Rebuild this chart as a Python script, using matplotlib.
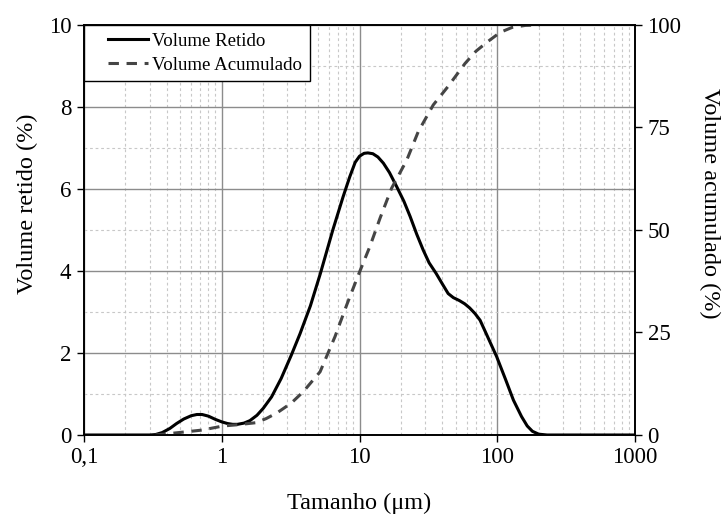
import matplotlib
matplotlib.use("Agg")
import matplotlib.pyplot as plt
from matplotlib.ticker import FixedLocator, LogLocator, NullFormatter
from matplotlib.legend_handler import HandlerLine2D

plt.rcParams['font.family'] = ['Liberation Serif', 'DejaVu Serif']
plt.rcParams['lines.scale_dashes'] = False

# volume retido (%)
tam_retido = [0.1, 0.2, 0.3, 0.33, 0.37, 0.42, 0.47, 0.53, 0.6, 0.66, 0.72, 0.8, 0.9,
              1.0, 1.1, 1.2, 1.3, 1.45, 1.6, 1.8, 2.0, 2.3, 2.7, 3.2, 3.7, 4.4, 5.2,
              6.4, 7.6, 8.5, 9.3, 10, 10.8, 11.5, 12.5, 13.6, 14.9, 16.5, 18.6, 21,
              23.3, 26, 29, 32, 36, 40, 44, 48, 53, 58, 63, 69, 75, 85, 99, 115, 131,
              150, 165, 180, 200, 230, 300, 1000]
vol_retido = [0, 0, 0, 0.01, 0.06, 0.16, 0.28, 0.39, 0.47, 0.5, 0.5, 0.46, 0.38,
              0.32, 0.28, 0.26, 0.26, 0.29, 0.35, 0.48, 0.65, 0.93, 1.38, 1.95, 2.47, 3.15, 3.94,
              5.0, 5.81, 6.3, 6.65, 6.8, 6.87, 6.88, 6.86, 6.78, 6.63, 6.4, 6.06, 5.7,
              5.33, 4.9, 4.51, 4.2, 3.94, 3.68, 3.45, 3.35, 3.28, 3.2, 3.1, 2.96, 2.8, 2.4, 1.91, 1.35, 0.85,
              0.45, 0.22, 0.09, 0.02, 0, 0, 0]

# volume acumulado (%)
tam_acum = [0.33, 0.46, 0.72, 1.02, 1.3, 1.77, 2.1, 2.52, 3.2, 3.89, 5.17, 6.64, 8.07,
            9.8, 11.9, 14.1, 17.1, 22.0, 26.7, 34.3, 43.9, 58.3, 70, 85.7, 105, 128, 160, 204]
vol_acum = [0, 0.5, 1.2, 2.2, 2.5, 3.0, 4.0, 5.4, 7.8, 10.5, 15.4, 24, 31.7,
            39, 46, 52.9, 60.2, 67, 74, 80.5, 85, 90.6, 93.6, 96, 98.2, 99.4, 99.9, 100]

fig = plt.figure(figsize=(7.26, 5.14), dpi=100)
ax = fig.add_axes([0.1157, 0.1537, 0.759, 0.7977])
ax2 = ax.twinx()

l1, = ax.plot(tam_retido, vol_retido, color='black', lw=2.2, label='Volume Retido', zorder=5)
l2, = ax2.plot(tam_acum, vol_acum, color='#454545', lw=2.2, dashes=(7.5, 5.5),
               label='Volume Acumulado')

ax.set_xscale('log')
ax.set_xlim(0.1, 1000)
ax.set_ylim(0, 10)
ax2.set_ylim(0, 100)

ax.set_xticks([0.1, 1, 10, 100, 1000])
ax.set_xticklabels(['0,1', '1', '10', '100', '1000'])
ax.xaxis.set_minor_locator(LogLocator(base=10, subs=range(2, 10)))
ax.xaxis.set_minor_formatter(NullFormatter())
ax.set_yticks([0, 2, 4, 6, 8, 10])
ax.yaxis.set_minor_locator(FixedLocator([1, 3, 5, 7, 9]))
ax2.set_yticks([0, 25, 50, 75, 100])

ax.grid(which='major', color='#8c8c8c', lw=1.0, ls='-')
ax.grid(which='minor', color='#c8c8c8', lw=0.8, ls=(0, (2, 2)))
ax.set_axisbelow(True)

ax.tick_params(which='major', direction='out', length=5, width=1, labelsize=16.5,
               colors='black', pad=4)
ax.tick_params(which='minor', length=0)
ax2.tick_params(which='major', direction='out', length=5, width=1, labelsize=16.5, pad=4)
for a in (ax, ax2):
    for s in a.spines.values():
        s.set_linewidth(1.2)

ax.set_xlabel('Tamanho (μm)', fontsize=17.5)
ax.xaxis.set_label_coords(0.5, -0.14)
ax.set_ylabel('Volume retido (%)', fontsize=17.5)
ax.yaxis.set_label_coords(-0.084, 0.565)
ax2.set_ylabel('Volume acumulado (%)', fontsize=17.5, rotation=270)
ax2.yaxis.set_label_coords(1.154, 0.565)

leg = ax2.legend(handles=[l1, l2], loc='upper left', bbox_to_anchor=(0, 1),
                 borderaxespad=0, fancybox=False, framealpha=1, edgecolor='black',
                 fontsize=13.6, handlelength=3.0, handletextpad=0.2,
                 borderpad=0.4, labelspacing=0.35,
                 handler_map={l1: HandlerLine2D(xpad=0.85), l2: HandlerLine2D(xpad=0.85)})
leg.get_frame().set_linewidth(1.0)

fig.savefig('out.png', dpi=100)
